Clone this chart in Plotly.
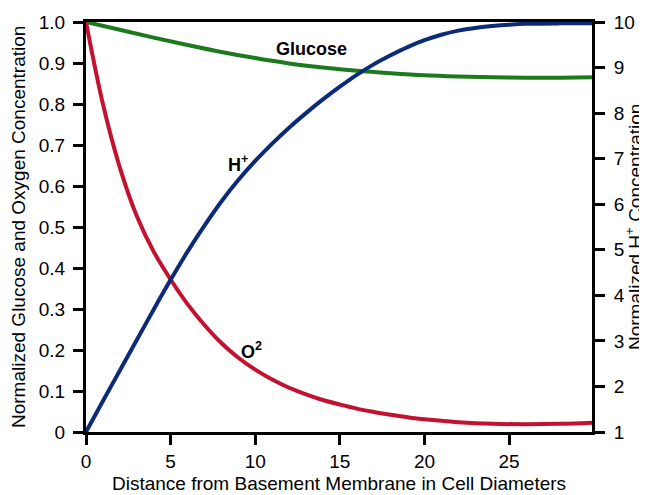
import plotly.graph_objects as go

# distance (cell diameters) and normalized concentrations
x_glu = [0, 2, 4, 6, 8, 10, 12, 14, 16, 18, 20, 22, 24, 26, 28, 30]
glucose = [1.0, 0.981, 0.962, 0.944, 0.927, 0.912, 0.899, 0.889, 0.881, 0.875, 0.87, 0.867, 0.865, 0.864, 0.864, 0.865]

x_h = [0, 1, 2, 3, 4, 5, 6, 7, 8, 9, 10, 11, 12, 13, 14, 15, 16, 17, 18, 19, 20,
       21, 22, 23, 24, 25, 26, 28, 30]
hplus = [1.0, 1.68, 2.35, 3.02, 3.69, 4.34, 4.96, 5.53, 6.06, 6.53, 6.95, 7.33, 7.68, 8.0, 8.3, 8.58,
         8.84, 9.07, 9.27, 9.45, 9.6, 9.72, 9.81, 9.87, 9.91, 9.94, 9.96, 9.97, 9.97]

x_o2 = [0, 1, 2, 3, 4, 5, 6, 7, 8, 9, 10, 11, 12, 13, 14, 15, 16, 17, 18, 19, 20,
        22, 24, 26, 28, 30]
oxygen = [1.0, 0.8, 0.645, 0.527, 0.44, 0.372, 0.312, 0.261, 0.217, 0.181, 0.152, 0.128, 0.108,
          0.092, 0.078, 0.067, 0.057, 0.049, 0.042, 0.036, 0.031, 0.024, 0.02, 0.019, 0.02, 0.023]

x_ticks = [0, 5, 10, 15, 20, 25]
y_left_ticks = [0, 0.1, 0.2, 0.3, 0.4, 0.5, 0.6, 0.7, 0.8, 0.9, 1.0]
y_left_text = ["0", "0.1", "0.2", "0.3", "0.4", "0.5", "0.6", "0.7", "0.8", "0.9", "1.0"]
y_right_ticks = [1, 2, 3, 4, 5, 6, 7, 8, 9, 10]

GREEN = "#1c7a1c"
BLUE = "#0b2a78"
RED = "#c3122f"
FONT = "Liberation Sans, Arial, sans-serif"
FS = 19

fig = go.Figure()
fig.add_trace(go.Scatter(x=x_glu, y=glucose, mode="lines", line=dict(color=GREEN, width=4, shape="spline"),
                         showlegend=False, hoverinfo="skip"))
fig.add_trace(go.Scatter(x=x_o2, y=oxygen, mode="lines", line=dict(color=RED, width=4, shape="spline"),
                         showlegend=False, hoverinfo="skip"))
fig.add_trace(go.Scatter(x=x_h, y=hplus, mode="lines", line=dict(color=BLUE, width=4, shape="spline"),
                         yaxis="y2", showlegend=False, hoverinfo="skip"))

fig.add_annotation(x=13.3, y=0.933, text="<b>Glucose</b>", showarrow=False,
                   font=dict(family=FONT, size=18, color="black"))
fig.add_annotation(x=9.0, y=0.656, text="<b>H<sup>+</sup></b>", showarrow=False,
                   font=dict(family=FONT, size=18, color="black"))
fig.add_annotation(x=9.76, y=0.2, text="<b>O<sup>2</sup></b>", showarrow=False,
                   font=dict(family=FONT, size=18, color="black"))

# axis titles
fig.add_annotation(xref="paper", yref="paper", x=0, y=0.5, xshift=-68, textangle=-90,
                   xanchor="center", yanchor="middle",
                   text="Normalized Glucose and Oxygen Concentration", showarrow=False,
                   font=dict(family=FONT, size=FS, color="black"))
fig.add_annotation(xref="paper", yref="paper", x=1, y=0.5, xshift=42, textangle=-90,
                   xanchor="center", yanchor="middle",
                   text="Normalized H<sup>+</sup> Concentration", showarrow=False,
                   font=dict(family=FONT, size=FS, color="black"))
fig.add_annotation(xref="paper", yref="paper", x=0.5, y=0, yshift=-51,
                   xanchor="center", yanchor="middle",
                   text="Distance from Basement Membrane in Cell Diameters", showarrow=False,
                   font=dict(family=FONT, size=FS, color="black"))

# the page body adds an 8px margin, so the figure is sized to fit the 647x495 window
fig.update_layout(
    width=639, height=487,
    margin=dict(l=78, r=55, t=14, b=63, autoexpand=False),
    paper_bgcolor="white", plot_bgcolor="white",
    font=dict(family=FONT, size=FS, color="black"),
    xaxis=dict(range=[0, 29.9], tickvals=x_ticks, ticks="outside", ticklen=10, tickwidth=3, tickcolor="black",
               showline=True, mirror=True, linewidth=3, linecolor="black", showgrid=False, zeroline=False,
               automargin=False, tickfont=dict(size=FS)),
    yaxis=dict(range=[0, 1], tickvals=y_left_ticks, ticktext=y_left_text, ticks="outside", ticklen=10,
               tickwidth=3, tickcolor="black",
               showline=True, linewidth=3, linecolor="black", showgrid=False, zeroline=False,
               ticklabelstandoff=4, automargin=False, tickfont=dict(size=FS)),
    yaxis2=dict(range=[1, 10], tickvals=y_right_ticks, overlaying="y", side="right", ticks="outside",
                ticklen=10, tickwidth=3, tickcolor="black", showline=True, linewidth=3, linecolor="black",
                showgrid=False, zeroline=False, ticklabelstandoff=5, automargin=False, tickfont=dict(size=FS)),
)

fig.write_html("out.html")
